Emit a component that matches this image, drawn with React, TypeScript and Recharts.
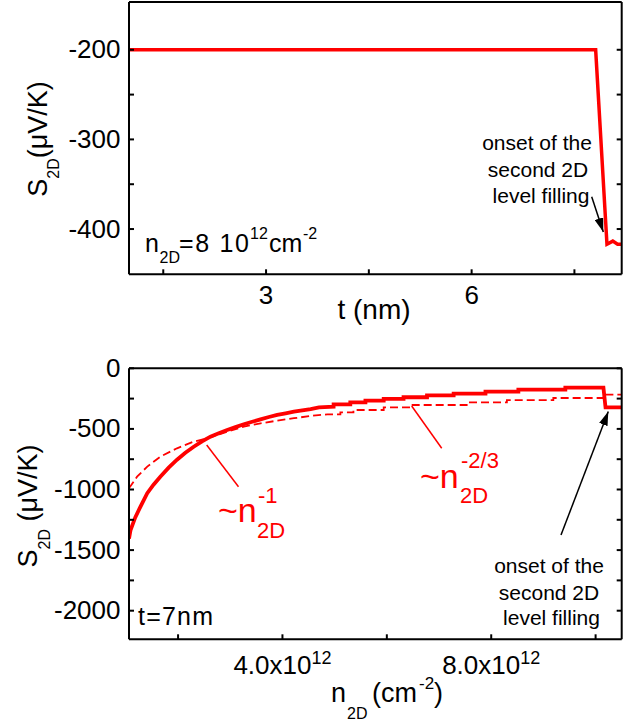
import React from "react";
import { LineChart, Line, XAxis, YAxis } from "recharts";

const FONT = '"Liberation Sans", Arial, Helvetica, sans-serif';
const RED = "#ff0000";

// top panel: S_2D vs t at n_2D = 8e12
const topT = [1, 7.81, 7.975, 8.06, 8.13, 8.19];
const topS = [-200, -200, -417, -413.5, -417, -417];
const topXTicks = [1.5, 3, 4.5, 6, 7.5];
const topXLabels = [3, 6];
const topYTicks = [-400, -350, -300, -250, -200];
const topYLabels = [-400, -300, -200];

// bottom panel: S_2D vs n_2D (units of 1e12 cm^-2) at t = 7 nm
const solidN = [
  1.06, 1.09, 1.18, 1.28, 1.41, 1.53, 1.66, 1.82, 1.98, 2.14, 2.3, 2.46, 2.62,
  2.78, 2.94, 3.1, 3.26, 3.42, 3.58, 3.74, 3.9, 4.06, 4.22, 4.38, 4.54, 4.7,
  4.98, 4.98, 5.3, 5.3, 5.59, 5.59, 5.94, 5.94, 6.32, 6.32, 6.77, 6.77, 7.28,
  7.28, 7.89, 7.89, 8.52, 8.52, 9.42, 9.42, 10.15, 10.19, 10.5,
];
const solidS = [
  -1405, -1334, -1230, -1141, -1031, -960, -894, -820, -754, -697, -647, -603,
  -564, -535, -509, -485, -462, -441, -421, -402, -385, -371, -358, -347, -336,
  -322, -317, -297, -297, -281, -281, -267, -267, -253, -253, -239, -239, -223,
  -223, -209, -209, -193, -193, -176, -176, -160, -160, -322, -322,
];
const dashedN = [
  1.06, 1.215, 1.41, 1.66, 1.98, 2.3, 2.56, 2.94, 3.26, 3.58, 3.9, 4.22, 4.54,
  4.86, 5.11, 5.11, 5.36, 5.36, 5.94, 5.94, 6.45, 6.45, 7.53, 7.53, 8.3, 8.3,
  9.19, 9.19, 10.15, 10.15, 10.5,
];
const dashedS = [
  -990, -894, -811, -729, -660, -605, -577, -523, -481, -454, -432, -412, -393,
  -380, -380, -363, -363, -344, -344, -322, -322, -303, -303, -281, -281, -262,
  -262, -245, -245, -218, -218,
];
const bottomXTicks = [2, 4, 6, 8, 10];
const bottomXLabels = [4, 8];
const bottomYTicks = [
  -2000, -1750, -1500, -1250, -1000, -750, -500, -250, 0,
];
const bottomYLabels = [-2000, -1500, -1000, -500, 0];

const toPoints = (xs: number[], ys: number[]) =>
  xs.map((x, i) => ({ x, y: ys[i] }));

const topData = toPoints(topT, topS);
const solidData = toPoints(solidN, solidS);
const dashedData = toPoints(dashedN, dashedS);

const axisStyle = { stroke: "#000", strokeWidth: 2 };
const noLabel = () => <g />;

const makeYTick = (labels: number[]) => (props: any) => {
  const { x, y, payload } = props;
  if (!labels.includes(payload.value)) return <g />;
  return (
    <text
      x={x}
      y={y + 8.5}
      textAnchor="end"
      fontFamily={FONT}
      fontSize={26}
      fill="#000"
    >
      {payload.value}
    </text>
  );
};

const topXTick = (props: any) => {
  const { x, y, payload } = props;
  if (!topXLabels.includes(payload.value)) return <g />;
  return (
    <text
      x={x}
      y={y + 29.7}
      textAnchor="middle"
      fontFamily={FONT}
      fontSize={26}
      fill="#000"
    >
      {payload.value}
    </text>
  );
};

const bottomXTick = (props: any) => {
  const { x, y, payload } = props;
  if (!bottomXLabels.includes(payload.value)) return <g />;
  return (
    <text
      x={x}
      y={y + 35}
      textAnchor="middle"
      fontFamily={FONT}
      fontSize={26}
      fill="#000"
    >
      <tspan>{payload.value.toFixed(1)}x10</tspan>
      <tspan dy={-10} fontSize={18}>
        12
      </tspan>
    </text>
  );
};

const TopPanel = () => (
  <LineChart
    width={637}
    height={335}
    margin={{ top: 1, right: 14.3, bottom: 0, left: 0 }}
  >
    <XAxis
      xAxisId="b"
      dataKey="x"
      type="number"
      domain={[1, 8.19]}
      allowDataOverflow
      ticks={topXTicks}
      interval={0}
      height={60.7}
      tickSize={-5}
      tickMargin={5}
      axisLine={axisStyle}
      tickLine={axisStyle}
      tick={topXTick}
    />
    <XAxis
      xAxisId="t"
      orientation="top"
      type="number"
      domain={[1, 8.19]}
      allowDataOverflow
      ticks={topXTicks}
      interval={0}
      height={1}
      tickSize={-5}
      axisLine={axisStyle}
      tickLine={axisStyle}
      tick={noLabel}
    />
    <YAxis
      yAxisId="l"
      type="number"
      domain={[-450.5, -146.7]}
      allowDataOverflow
      ticks={topYTicks}
      interval={0}
      width={129}
      tickSize={-5}
      tickMargin={13.5}
      axisLine={axisStyle}
      tickLine={axisStyle}
      tick={makeYTick(topYLabels)}
    />
    <YAxis
      yAxisId="r"
      orientation="right"
      type="number"
      domain={[-450.5, -146.7]}
      allowDataOverflow
      ticks={topYTicks}
      interval={0}
      width={1}
      tickSize={-5}
      axisLine={axisStyle}
      tickLine={axisStyle}
      tick={noLabel}
    />
    <Line
      xAxisId="b"
      yAxisId="l"
      data={topData}
      dataKey="y"
      type="linear"
      stroke={RED}
      strokeWidth={3.5}
      dot={false}
      isAnimationActive={false}
    />
  </LineChart>
);

const BottomPanel = () => (
  <LineChart
    width={637}
    height={387}
    margin={{ top: 27.3, right: 14.3, bottom: 0, left: 0 }}
  >
    <XAxis
      xAxisId="b"
      dataKey="x"
      type="number"
      domain={[1.06, 10.5]}
      allowDataOverflow
      ticks={bottomXTicks}
      interval={0}
      height={87.7}
      tickSize={-5}
      tickMargin={5}
      axisLine={axisStyle}
      tickLine={axisStyle}
      tick={bottomXTick}
    />
    <XAxis
      xAxisId="t"
      orientation="top"
      type="number"
      domain={[1.06, 10.5]}
      allowDataOverflow
      ticks={bottomXTicks}
      interval={0}
      height={1}
      tickSize={-5}
      axisLine={axisStyle}
      tickLine={axisStyle}
      tick={noLabel}
    />
    <YAxis
      yAxisId="l"
      type="number"
      domain={[-2236, 0]}
      allowDataOverflow
      ticks={bottomYTicks}
      interval={0}
      width={129}
      tickSize={-5}
      tickMargin={13.5}
      axisLine={axisStyle}
      tickLine={axisStyle}
      tick={makeYTick(bottomYLabels)}
    />
    <YAxis
      yAxisId="r"
      orientation="right"
      type="number"
      domain={[-2236, 0]}
      allowDataOverflow
      ticks={bottomYTicks}
      interval={0}
      width={1}
      tickSize={-5}
      axisLine={axisStyle}
      tickLine={axisStyle}
      tick={noLabel}
    />
    <Line
      xAxisId="b"
      yAxisId="l"
      data={dashedData}
      dataKey="y"
      type="linear"
      stroke={RED}
      strokeWidth={1.8}
      strokeDasharray="8 4"
      dot={false}
      isAnimationActive={false}
    />
    <Line
      xAxisId="b"
      yAxisId="l"
      data={solidData}
      dataKey="y"
      type="linear"
      stroke={RED}
      strokeWidth={3.8}
      dot={false}
      isAnimationActive={false}
    />
  </LineChart>
);

// axis titles and annotations drawn over both panels
const Overlay = () => (
  <svg
    width={637}
    height={727}
    style={{ position: "absolute", left: 0, top: 0, pointerEvents: "none" }}
    fontFamily={FONT}
  >
    <defs>
      <marker
        id="head"
        markerWidth={14}
        markerHeight={9}
        refX={14}
        refY={4.5}
        orient="auto"
        markerUnits="userSpaceOnUse"
      >
        <path d="M0,0 L14,4.5 L0,9 z" fill="#000" />
      </marker>
    </defs>

    {/* top panel */}
    <text
      transform="translate(47,139) rotate(-90)"
      textAnchor="middle"
      fontSize={27}
    >
      <tspan>S</tspan>
      <tspan dy={12} fontSize={16}>
        2D
      </tspan>
      <tspan dy={-12}>(μV/K)</tspan>
    </text>
    <text x={374} y={319} textAnchor="middle" fontSize={28}>
      t (nm)
    </text>
    <text x={145} y={252} fontSize={25}>
      n
    </text>
    <text x={159.5} y={263} fontSize={16}>
      2D
    </text>
    <text x={179} y={252} fontSize={25} textLength={70}>
      =8 10
    </text>
    <text x={250} y={239} fontSize={16}>
      12
    </text>
    <text x={269} y={252} fontSize={25}>
      cm
    </text>
    <text x={303} y={239} fontSize={16}>
      -2
    </text>
    <g fontSize={21} textAnchor="middle">
      <text x={537} y={150}>
        onset of the
      </text>
      <text x={538} y={176.7}>
        second 2D
      </text>
      <text x={541} y={203.3}>
        level filling
      </text>
    </g>
    <line
      x1={591.7}
      y1={196.7}
      x2={603.3}
      y2={232}
      stroke="#000"
      strokeWidth={1.5}
      markerEnd="url(#head)"
    />

    {/* bottom panel */}
    <text
      transform="translate(37,506) rotate(-90)"
      textAnchor="middle"
      fontSize={27}
    >
      <tspan>S</tspan>
      <tspan dy={13} fontSize={16}>
        2D
      </tspan>
      <tspan dy={-13}> (μV/K)</tspan>
    </text>
    <text x={331} y={702} fontSize={27}>
      n
    </text>
    <text x={347} y={719} fontSize={16}>
      2D
    </text>
    <text x={372} y={702} fontSize={27}>
      (cm
    </text>
    <text x={419} y={689} fontSize={17}>
      -2
    </text>
    <text x={434} y={702} fontSize={27}>
      )
    </text>
    <text x={138} y={625} fontSize={25} textLength={75}>
      t=7nm
    </text>

    <line x1={206.7} y1={445} x2={238.5} y2={486.7} stroke={RED} strokeWidth={1.5} />
    <g fill={RED}>
      <text x={218} y={522} fontSize={34}>
        ~n
      </text>
      <text x={258} y={503} fontSize={22}>
        -1
      </text>
      <text x={257} y={538} fontSize={22}>
        2D
      </text>
    </g>

    <line x1={411.7} y1={406} x2={441.7} y2={448.3} stroke={RED} strokeWidth={1.5} />
    <g fill={RED}>
      <text x={420} y={488} fontSize={34}>
        ~n
      </text>
      <text x={461} y={468} fontSize={22}>
        -2/3
      </text>
      <text x={460} y={503} fontSize={22}>
        2D
      </text>
    </g>

    <g fontSize={21} textAnchor="middle">
      <text x={549} y={573.3}>
        onset of the
      </text>
      <text x={549} y={600}>
        second 2D
      </text>
      <text x={551.5} y={625}>
        level filling
      </text>
    </g>
    <line
      x1={561}
      y1={535}
      x2={608.3}
      y2={411.5}
      stroke="#000"
      strokeWidth={1.5}
      markerEnd="url(#head)"
    />
  </svg>
);

export default function App() {
  return (
    <div
      style={{
        position: "absolute",
        left: 0,
        top: 0,
        width: 637,
        height: 727,
        background: "#fff",
        fontFamily: FONT,
      }}
    >
      <div style={{ position: "absolute", left: 0, top: 0 }}>
        <TopPanel />
      </div>
      <div style={{ position: "absolute", left: 0, top: 340 }}>
        <BottomPanel />
      </div>
      <Overlay />
    </div>
  );
}
